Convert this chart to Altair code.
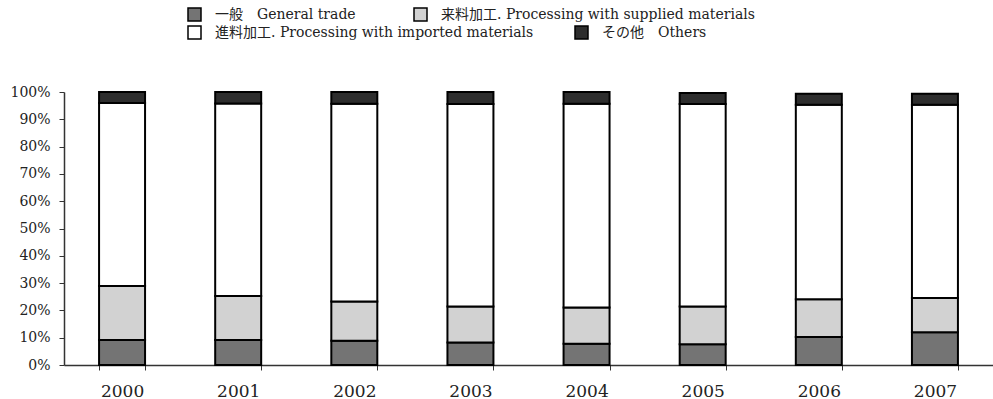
import altair as alt
import pandas as pd

years = ["2000", "2001", "2002", "2003", "2004", "2005", "2006", "2007"]
series = [
    "一般\u3000General trade",
    "来料加工. Processing with supplied materials",
    "進料加工. Processing with imported materials",
    "その他\u3000Others",
]
general = [9.2, 9.2, 8.9, 8.2, 7.8, 7.6, 10.3, 12.0]
supplied = [19.7, 16.1, 14.4, 13.2, 13.3, 13.8, 13.8, 12.5]
imported = [67.1, 70.5, 72.4, 74.2, 74.6, 74.2, 71.2, 70.8]
others = [4.0, 4.2, 4.3, 4.4, 4.3, 4.0, 4.1, 4.1]
y_ticks = [0, 10, 20, 30, 40, 50, 60, 70, 80, 90, 100]
colors = ["#747474", "#d2d2d2", "#ffffff", "#2e2e2e"]

rows = []
for si, (name, vals) in enumerate(zip(series, [general, supplied, imported, others])):
    for y, v in zip(years, vals):
        rows.append({"year": y, "series": name, "value": v, "idx": si})
df = pd.DataFrame(rows)

FONT = "'DejaVu Serif', 'Noto Sans CJK JP', serif"

base = (
    alt.Chart(df)
    .transform_window(
        top="sum(value)",
        frame=[None, 0],
        sort=[alt.SortField("idx", order="ascending")],
        groupby=["year"],
    )
    .transform_calculate(bottom="datum.top - datum.value")
)

x_enc = alt.X(
    "year:N",
    sort=years,
    title=None,
    scale=alt.Scale(paddingInner=0.604, paddingOuter=0.302),
    axis=alt.Axis(
        labelAngle=0,
        labelFontSize=17,
        labelPadding=13,
        tickBand="extent",
        tickSize=5,
        domainColor="#333",
        tickColor="#333",
        domainWidth=1.5,
    ),
)
y_enc = alt.Y(
    "bottom:Q",
    title=None,
    scale=alt.Scale(domain=[0, 100], nice=False),
    axis=alt.Axis(
        values=y_ticks,
        labelExpr="datum.value + '%'",
        labelFontSize=14,
        labelPadding=9,
        tickSize=5,
        grid=False,
        domainColor="#333",
        tickColor="#333",
        domainWidth=1.5,
    ),
)


def legend(y, pad):
    return alt.Legend(
        title=None,
        orient="none",
        direction="horizontal",
        legendX=123,
        legendY=y,
        columnPadding=pad,
        padding=0,
        symbolType="square",
        symbolSize=169,
        symbolStrokeColor="black",
        symbolStrokeWidth=1.5,
        labelFontSize=14,
        labelOffset=13,
        labelLimit=600,
        labelColor="#222",
    )


def layer(names, cols, ly, pad):
    return (
        base.transform_filter(alt.FieldOneOfPredicate(field="series", oneOf=names))
        .mark_bar(stroke="black", strokeWidth=2)
        .encode(
            x=x_enc,
            y=y_enc,
            y2="top:Q",
            color=alt.Color(
                "series:N",
                sort=names,
                scale=alt.Scale(domain=names, range=cols),
                legend=legend(ly, pad),
            ),
        )
    )


chart = (
    alt.layer(
        layer(series[:2], colors[:2], -85, 55),
        layer(series[2:], colors[2:], -67, 38),
    )
    .resolve_scale(color="independent")
    .properties(
        width=929,
        height=273,
        autosize=alt.AutoSizeParams(type="none"),
        padding={"left": 64, "top": 92, "right": 0, "bottom": 34},
    )
    .configure_view(stroke=None)
    .configure_axis(labelFont=FONT, labelColor="#222")
    .configure_legend(labelFont=FONT)
)

chart.save("out.html", embed_options={"renderer": "svg", "actions": False})
